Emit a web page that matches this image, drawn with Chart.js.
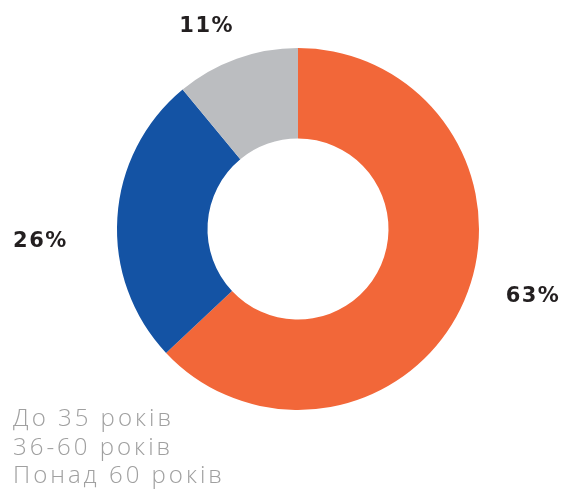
<!DOCTYPE html>
<html><head><meta charset="utf-8">
<script src="https://cdn.jsdelivr.net/npm/chart.js@4/dist/chart.umd.min.js"></script>
<style>
html,body{margin:0;padding:0;background:#fff;width:566px;height:497px;overflow:hidden;}
#wrap{position:relative;width:566px;height:497px;}
#c{position:absolute;left:0;top:0;}
#legend{position:absolute;left:13px;top:403px;font-family:"Open Sans",sans-serif;font-weight:300;font-size:24px;line-height:28.5px;color:#a0a0a0;letter-spacing:3px;}
</style></head><body>
<div id="wrap"><canvas id="c" width="566" height="497"></canvas><div id="legend"></div></div>
<script>
const categories = ["До 35 років", "36-60 років", "Понад 60 років"];
const shares = [63, 26, 11];
const valueLabels = ["63%", "26%", "11%"];
const colors = ["#F26739", "#1453A4", "#BBBDC0"];

document.getElementById('legend').innerHTML = categories.map(c => '<div>' + c + '</div>').join('');

const labelOffsets = [[12, -29], [-15, 28], [-9, 26]];
const labelPlugin = {
  id: 'pctLabels',
  afterDatasetsDraw(chart) {
    const ctx = chart.ctx;
    const meta = chart.getDatasetMeta(0);
    ctx.save();
    ctx.font = 'bold 21px "DejaVu Sans", sans-serif';
    ctx.letterSpacing = '1.5px';
    ctx.fillStyle = '#231f20';
    ctx.textAlign = 'center';
    ctx.textBaseline = 'middle';
    meta.data.forEach((arc, i) => {
      const p = arc.getProps(['x','y','startAngle','endAngle','outerRadius'], true);
      const mid = (p.startAngle + p.endAngle) / 2;
      const r = p.outerRadius + 62;
      const x = p.x + Math.cos(mid) * r + labelOffsets[i][0];
      const y = p.y + Math.sin(mid) * r + labelOffsets[i][1];
      ctx.fillText(valueLabels[i], x, y);
    });
    ctx.restore();
  }
};

new Chart(document.getElementById('c'), {
  type: 'doughnut',
  data: { labels: categories, datasets: [{ data: shares, backgroundColor: colors, borderWidth: 0 }] },
  options: {
    responsive: false,
    animation: false,
    cutout: '50%',
    layout: { padding: { left: 117, right: 87, top: 48, bottom: 87 } },
    plugins: { legend: { display: false }, tooltip: { enabled: false } }
  },
  plugins: [labelPlugin]
});
</script>
</body></html>
